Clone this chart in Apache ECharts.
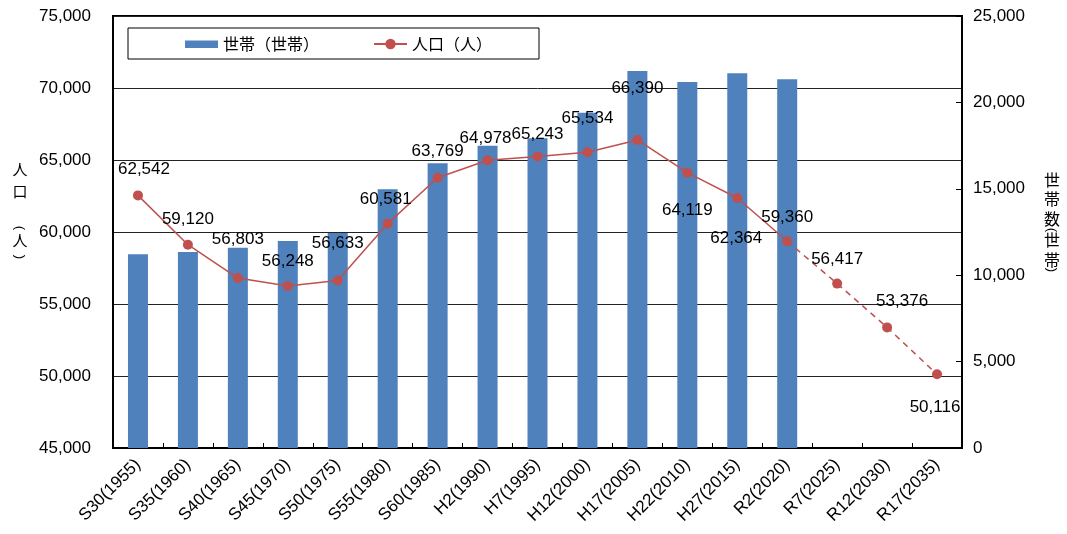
<!DOCTYPE html>
<html><head><meta charset="utf-8">
<script src="https://cdn.jsdelivr.net/npm/echarts@6/dist/echarts.min.js"></script>
<style>html,body{margin:0;padding:0;background:#fff}#c{width:1067px;height:534px}</style>
</head><body><div id="c"></div>
<script>
const categories = ['S30(1955)','S35(1960)','S40(1965)','S45(1970)','S50(1975)','S55(1980)','S60(1985)','H2(1990)','H7(1995)','H12(2000)','H17(2005)','H22(2010)','H27(2015)','R2(2020)','R7(2025)','R12(2030)','R17(2035)'];
const households = [11209, 11343, 11591, 11979, 12442, 14971, 16476, 17494, 17922, 19404, 21817, 21181, 21684, 21337, null, null, null];
const population = [62542, 59120, 56803, 56248, 56633, 60581, 63769, 64978, 65243, 65534, 66390, 64119, 62364, 59360, 56417, 53376, 50116];
const firstProjectionIndex = 14;
const leftTicks = {min: 45000, max: 75000, step: 5000};
const rightTicks = {min: 0, max: 25000, step: 5000};
const seriesNames = ['世帯（世帯）', '人口（人）', '人口（推計）'];
const leftAxisTitle = ['人', '口', '(', '人', ')'];
const rightAxisTitle = ['世', '帯', '数', '(', '世', '帯', ')'];

const FONT = "'Liberation Sans', 'Noto Sans CJK JP', sans-serif";
const CJK = "'Noto Sans CJK JP', sans-serif";
const labelOffsets = [[6,-26],[0,-25],[0,-39],[0,-25],[0,-37],[-2,-24],[0,-26],[-2,-22],[0,-22],[0,-34],[0,-52],[0,38],[-1,40],[0,-24],[0,-24],[15,-26],[-2,33]];
const fmt = v => v.toLocaleString('en-US');

function pointItem(v, i, hide) {
  if (v == null) return '-';
  if (hide) return {value: v, symbol: 'none', label: {show: false}};
  return {value: v, label: {offset: labelOffsets[i]}};
}
const actual = population.map((v, i) => i < firstProjectionIndex ? pointItem(v, i) : '-');
const projected = population.map((v, i) => i < firstProjectionIndex - 1 ? '-' : pointItem(v, i, i === firstProjectionIndex - 1));

const lineLabel = {show: true, position: 'inside', color: '#000', fontSize: 17, fontFamily: FONT, formatter: p => fmt(p.value)};

// vertical axis titles: glyph centers (layout only)
const leftTitleY = [169, 191, 228, 240, 257];
const rightTitleY = [180, 199, 219, 230, 240, 260, 270];
function titleText(chars, ys, x, size) {
  return chars.map((ch, i) => {
    const paren = ch === '(' || ch === ')';
    return {
      type: 'text', x: x, y: ys[i], rotation: paren ? -Math.PI / 2 : 0,
      style: {text: ch, fill: '#000', font: (paren ? '13px ' + FONT : size + 'px ' + CJK), align: 'center', verticalAlign: 'middle'}
    };
  });
}

const chart = echarts.init(document.getElementById('c'));
chart.setOption({
  backgroundColor: '#fff',
  animation: false,
  textStyle: {fontFamily: FONT},
  grid: {left: 113, right: 105, top: 16, bottom: 86, show: true, borderColor: '#000', borderWidth: 2, backgroundColor: 'transparent'},
  legend: {
    data: [
      {name: seriesNames[0], icon: 'path://M0,0h0.01M0,3h33v7.5h-33zM0,13h0.01'},
      {name: seriesNames[1]}
    ],
    left: 128, top: 28,
    padding: [8, 47, 7, 57],
    itemGap: 54, itemWidth: 33, itemHeight: 13,
    borderColor: '#000', borderWidth: 1, backgroundColor: '#fff',
    textStyle: {fontSize: 16, fontFamily: CJK, color: '#000'}
  },
  xAxis: {
    type: 'category', data: categories,
    axisLine: {lineStyle: {color: '#000', width: 2}},
    axisTick: {show: true, inside: true, length: 5, lineStyle: {color: '#000'}},
    axisLabel: {rotate: 45, fontSize: 17, color: '#000', margin: 14, interval: 0}
  },
  yAxis: [
    {type: 'value', min: leftTicks.min, max: leftTicks.max, interval: leftTicks.step,
     axisLine: {show: true, lineStyle: {color: '#000', width: 2}},
     axisTick: {show: false},
     axisLabel: {fontSize: 17, color: '#000', margin: 22, formatter: v => fmt(v)},
     splitLine: {show: true, lineStyle: {color: '#222', width: 1}}},
    {type: 'value', min: rightTicks.min, max: rightTicks.max, interval: rightTicks.step,
     axisLine: {show: true, lineStyle: {color: '#000', width: 2}},
     axisTick: {show: true, inside: true, length: 6, lineStyle: {color: '#000'}},
     axisLabel: {fontSize: 17, color: '#000', margin: 11, formatter: v => fmt(v)},
     splitLine: {show: false}}
  ],
  graphic: titleText(leftAxisTitle, leftTitleY, 20, 15).concat(titleText(rightAxisTitle, rightTitleY, 1052, 16)),
  series: [
    {name: seriesNames[0], type: 'bar', yAxisIndex: 1, barWidth: 20, data: households.map(v => v == null ? '-' : v),
     itemStyle: {color: '#4F81BD'}, z: 2},
    {name: seriesNames[1], type: 'line', yAxisIndex: 0, data: actual,
     symbol: 'circle', symbolSize: 10, showAllSymbol: true,
     itemStyle: {color: '#C0504D'}, lineStyle: {color: '#C0504D', width: 1.5},
     label: lineLabel, z: 5},
    {name: seriesNames[2], type: 'line', yAxisIndex: 0, data: projected,
     symbol: 'circle', symbolSize: 10, showAllSymbol: true,
     itemStyle: {color: '#C0504D'}, lineStyle: {color: '#C0504D', width: 1.5, type: [6, 5]},
     label: lineLabel, z: 5}
  ]
});
</script></body></html>
